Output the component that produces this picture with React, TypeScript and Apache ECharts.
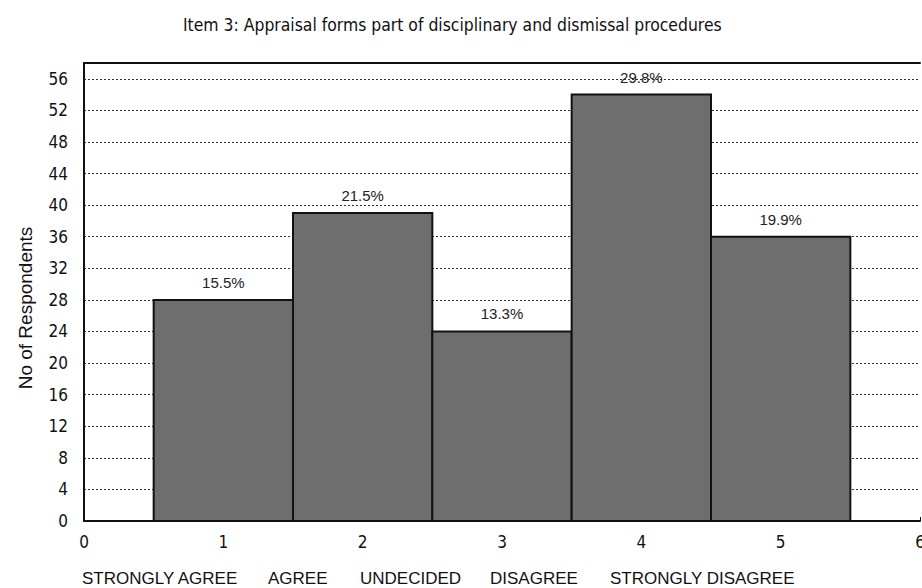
import React, { useEffect, useRef } from "react";
import * as echarts from "echarts";

const titleText = "Item 3: Appraisal forms part of disciplinary and dismissal procedures";
const yAxisTitle = "No of Respondents";
const positions = [1, 2, 3, 4, 5];
const counts = [28, 39, 24, 54, 36];
const percentLabels = ["15.5%", "21.5%", "13.3%", "29.8%", "19.9%"];
const categoryNames = ["STRONGLY AGREE", "AGREE", "UNDECIDED", "DISAGREE", "STRONGLY DISAGREE"];
const categoryX = [82, 268, 360, 490, 610];

const NARROW = "'Liberation Sans Narrow', 'DejaVu Sans Condensed', 'Liberation Sans', sans-serif";
const SANS = "'Liberation Sans', Arial, sans-serif";

export default function App() {
  const ref = useRef<HTMLDivElement>(null);
  useEffect(() => {
    if (!ref.current) return;
    const chart = echarts.init(ref.current, null, { renderer: "svg" });
    const data = positions.map((p, i) => [p, counts[i], i]);
    chart.setOption({
      animation: false,
      backgroundColor: "#ffffff",
      title: {
        text: titleText,
        left: 178,
        top: 11,
        textStyle: { fontFamily: NARROW, fontSize: 17.4, fontWeight: "normal", color: "#111" },
      },
      grid: {
        left: 84,
        right: 2,
        top: 63,
        bottom: 67,
        show: false,
        outerBoundsMode: "none",
        containLabel: false,
      },
      xAxis: [
        {
          type: "value",
          min: 0,
          max: 6,
          interval: 1,
          axisLine: { show: true, lineStyle: { color: "#111", width: 2 } },
          axisTick: { show: true, inside: true, length: 4, lineStyle: { color: "#111" } },
          splitLine: { show: false },
          axisLabel: { fontFamily: NARROW, fontSize: 17, color: "#111", margin: 12 },
        },
        {
          type: "value",
          position: "top",
          min: 0,
          max: 6,
          interval: 1,
          axisLine: { show: true, lineStyle: { color: "#111", width: 2 } },
          axisTick: { show: false },
          splitLine: { show: false },
          axisLabel: { show: false },
        },
      ],
      yAxis: {
        type: "value",
        min: 0,
        max: 58,
        interval: 4,
        axisLine: { show: true, lineStyle: { color: "#111", width: 2 } },
        axisTick: { show: false },
        splitLine: { show: true, lineStyle: { color: "#333", width: 1, type: [2, 2] } },
        axisLabel: { fontFamily: NARROW, fontSize: 17, color: "#111", margin: 16, showMaxLabel: false },
      },
      graphic: [
        {
          type: "text",
          x: 25,
          y: 308,
          rotation: Math.PI / 2,
          style: {
            text: yAxisTitle,
            font: `19px ${SANS}`,
            fill: "#111",
            textAlign: "center",
            textVerticalAlign: "middle",
          },
        },
        ...categoryNames.map((name, i) => ({
          type: "text",
          x: categoryX[i],
          y: 578,
          style: {
            text: name,
            font: `17px ${SANS}`,
            fill: "#111",
            textAlign: "left",
            textVerticalAlign: "middle",
          },
        })),
      ],
      series: [
        {
          type: "custom",
          xAxisIndex: 0,
          data,
          encode: { x: 0, y: 1 },
          renderItem: (params: any, api: any) => {
            const x = api.value(0);
            const y = api.value(1);
            const idx = api.value(2);
            const p0 = api.coord([x - 0.5, y]);
            const p1 = api.coord([x + 0.5, 0]);
            return {
              type: "group",
              children: [
                {
                  type: "rect",
                  shape: { x: p0[0], y: p0[1], width: p1[0] - p0[0], height: p1[1] - p0[1] },
                  style: { fill: "#6e6e6e", stroke: "#111", lineWidth: 2 },
                },
                {
                  type: "text",
                  x: (p0[0] + p1[0]) / 2,
                  y: p0[1] - 10,
                  style: {
                    text: percentLabels[idx],
                    font: `15px ${SANS}`,
                    fill: "#222",
                    textAlign: "center",
                    textVerticalAlign: "bottom",
                  },
                },
              ],
            };
          },
        },
      ],
    });
    return () => chart.dispose();
  }, []);
  return (
    <div
      ref={ref}
      style={{ position: "fixed", left: 0, top: 0, width: 922, height: 588, background: "#fff" }}
    />
  );
}
